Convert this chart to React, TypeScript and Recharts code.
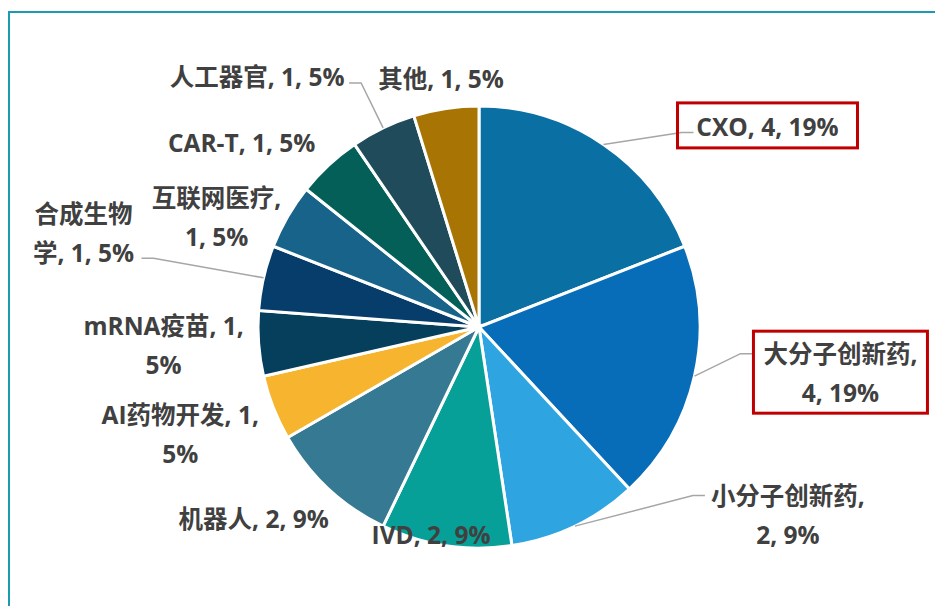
import { PieChart, Pie, Cell } from 'recharts';

const NAMES = ['CXO', '大分子创新药', '小分子创新药', 'IVD', '机器人', 'AI药物开发', 'mRNA疫苗', '合成生物学', '互联网医疗', 'CAR-T', '人工器官', '其他'];
const VALUES = [4, 4, 2, 2, 2, 1, 1, 1, 1, 1, 1, 1];
const PERCENTS = [19, 19, 9, 9, 9, 5, 5, 5, 5, 5, 5, 5];
const COLORS = ['#0a6fa3', '#086db8', '#2ea5e0', '#06a098', '#357a92', '#f6b42f', '#053f5c', '#063d6a', '#17638a', '#045f58', '#1f4b5a', '#a87505'];

// label placement relative to slice edge point: dx, dy, line split, leader, red box
const LABEL_LAYOUT: Record<string, { dx: number; dy: number; split?: number; leader?: boolean; box?: boolean }> = {
  CXO: { dx: 164, dy: -18, leader: true, box: true },
  大分子创新药: { dx: 146, dy: -3, split: 7, leader: true, box: true },
  小分子创新药: { dx: 213, dy: -11, split: 7, leader: true },
  IVD: { dx: -15, dy: -11 },
  机器人: { dx: -75, dy: 29 },
  AI药物开发: { dx: -93, dy: 26, split: 10 },
  mRNA疫苗: { dx: -95, dy: 1, split: 10 },
  合成生物学: { dx: -180, dy: -45, split: 4, leader: true },
  互联网医疗: { dx: -71, dy: 0, split: 6 },
  'CAR-T': { dx: -87, dy: -22 },
  人工器官: { dx: -126, dy: -51, leader: true },
  其他: { dx: -5, dy: -30 },
};

const data = NAMES.map((name, i) => ({ name, value: VALUES[i], pct: PERCENTS[i] }));

const RAD = Math.PI / 180;
const FONT = "'Open Sans', 'Noto Sans CJK SC', sans-serif";
const LINE_H = 39;

function renderLabel(props: any) {
  const { cx, cy, midAngle, outerRadius, index } = props;
  const d = data[index];
  const lay = LABEL_LAYOUT[d.name];
  const ex = cx + outerRadius * Math.cos(-midAngle * RAD);
  const ey = cy + outerRadius * Math.sin(-midAngle * RAD);
  const lx = ex + lay.dx;
  const ly = ey + lay.dy;
  const full = `${d.name}, ${d.value}, ${d.pct}%`;
  const lines = lay.split ? [full.slice(0, lay.split).trim(), full.slice(lay.split).trim()] : [full];
  const h = lines.length * LINE_H;
  const top = ly - h / 2;
  const approxW = d.name === 'CXO' ? 180 : 174;
  let leader = null;
  if (lay.leader) {
    const right = lay.dx > 0;
    const attachY = lines.length > 1 ? top + LINE_H / 2 - 10 : ly + 5;
    let ax: number;
    if (d.name === '合成生物学') ax = lx + 58;
    else if (d.name === '人工器官') ax = lx + 92;
    else if (d.name === 'CXO') ax = lx - 74;
    else if (d.name === '大分子创新药') ax = lx - 88;
    else ax = lx - 83;
    const ay = d.name === '合成生物学' ? top + LINE_H * 1.5 + 6 : d.name === '人工器官' ? ly + 6 : d.name === 'CXO' ? ly + 6 : attachY + 10;
    const kx = right ? ax - 12 : ax + 12;
    leader = (
      <polyline points={`${ex},${ey} ${kx},${ay} ${ax},${ay}`} fill="none" stroke="#a6a6a6" strokeWidth={1.5} />
    );
  }
  return (
    <g key={`lbl-${index}`}>
      {leader}
      {lay.box && (
        <rect x={lx - approxW / 2} y={top - (lines.length > 1 ? 3 : 4)} width={approxW} height={h + (lines.length > 1 ? 4 : 6)} fill="none" stroke="#c00000" strokeWidth={3} />
      )}
      {lines.map((t, i) => (
        <text
          key={i}
          x={lx}
          y={top + LINE_H * i + LINE_H / 2}
          textAnchor="middle"
          dominantBaseline="central"
          fill="#404040"
          fontSize={24.5}
          fontWeight="bold"
          fontFamily={FONT}
        >
          {t}
        </text>
      ))}
    </g>
  );
}

export default function App() {
  return (
    <div style={{ position: 'fixed', left: 0, top: 0, width: 935, height: 606, background: '#fff', overflow: 'hidden' }}>
      <div
        style={{
          position: 'absolute',
          left: 8,
          top: 11,
          width: 1000,
          height: 700,
          borderLeft: '2.5px solid #1b9bb0',
          borderTop: '2.5px solid #1b9bb0',
        }}
      />
      <div style={{ position: 'absolute', left: 0, top: 0 }}>
        <PieChart width={935} height={606} margin={{ top: 0, right: 0, bottom: 0, left: 0 }}>
          <Pie
            data={data}
            dataKey="value"
            nameKey="name"
            cx={479}
            cy={327}
            outerRadius={221}
            startAngle={90}
            endAngle={-270}
            stroke="#ffffff"
            strokeWidth={3}
            label={renderLabel}
            labelLine={false}
            isAnimationActive={false}
          >
            {data.map((d, i) => (
              <Cell key={d.name} fill={COLORS[i]} />
            ))}
          </Pie>
        </PieChart>
      </div>
    </div>
  );
}
